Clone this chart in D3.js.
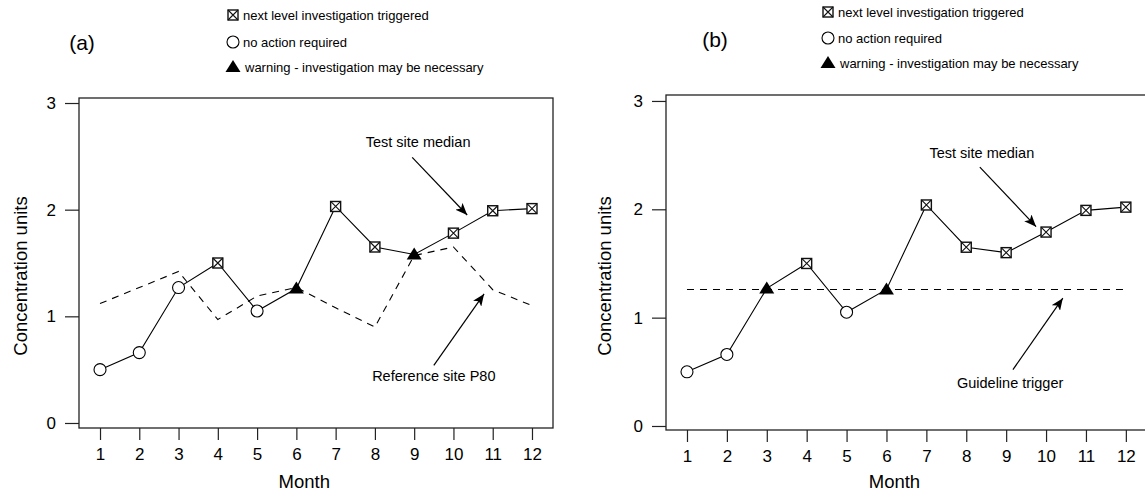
<!DOCTYPE html>
<html>
<head>
<meta charset="utf-8">
<script src="https://cdn.jsdelivr.net/npm/d3@7"></script>
<style>
  body { margin: 0; background: #fff; }
  svg { display: block; font-family: "Liberation Sans", Arial, sans-serif; }
</style>
</head>
<body>
<div id="chart"></div>
<script>
// data
const months = [1, 2, 3, 4, 5, 6, 7, 8, 9, 10, 11, 12];
const testMedianA = [0.50, 0.66, 1.27, 1.50, 1.05, 1.26, 2.03, 1.65, 1.58, 1.78, 1.99, 2.01];
const testMedianB = [0.50, 0.66, 1.27, 1.50, 1.05, 1.26, 2.04, 1.65, 1.60, 1.79, 1.99, 2.02];
const refSiteP80 = [1.12, 1.27, 1.42, 0.97, 1.19, 1.27, 1.08, 0.90, 1.57, 1.65, 1.25, 1.10];
const guidelineTrigger = 1.26;
const statusA = ['none', 'none', 'none', 'next', 'none', 'warn', 'next', 'next', 'warn', 'next', 'next', 'next'];
const statusB = ['none', 'none', 'warn', 'next', 'none', 'warn', 'next', 'next', 'next', 'next', 'next', 'next'];
const yTicks = [0, 1, 2, 3];
const legendItems = [
  {key: 'next', label: 'next level investigation triggered'},
  {key: 'none', label: 'no action required'},
  {key: 'warn', label: 'warning - investigation may be necessary'}
];
const annotationsA = [
  {text: 'Test site median', tx: 9.1, ty: 2.59, x1: 8.95, y1: 2.49, x2: 10.35, y2: 1.95},
  {text: 'Reference site P80', tx: 9.5, ty: 0.39, x1: 9.5, y1: 0.54, x2: 10.78, y2: 1.21}
];
const annotationsB = [
  {text: 'Test site median', tx: 8.39, ty: 2.47, x1: 8.34, y1: 2.39, x2: 9.75, y2: 1.84},
  {text: 'Guideline trigger', tx: 9.1, ty: 0.35, x1: 9.17, y1: 0.52, x2: 10.42, y2: 1.18}
];

const W = 1145, H = 492;

const svg = d3.select('#chart').append('svg')
  .attr('width', W)
  .attr('height', H);

svg.append('defs').append('marker')
  .attr('id', 'arrowhead')
  .attr('viewBox', '0 0 12 10')
  .attr('refX', 12).attr('refY', 5)
  .attr('markerWidth', 12).attr('markerHeight', 10)
  .attr('markerUnits', 'userSpaceOnUse')
  .attr('orient', 'auto')
  .append('path')
  .attr('d', 'M0,0 L12,5 L0,10 L3,5 Z')
  .attr('fill', '#000');

function drawSymbol(g, key, x, y){
  if(key === 'none'){
    g.append('circle')
      .attr('cx', x).attr('cy', y).attr('r', 6)
      .attr('fill', '#fff').attr('stroke', '#000').attr('stroke-width', 1.1);
  } else if(key === 'next'){
    const s = 5;
    g.append('rect')
      .attr('x', x - s).attr('y', y - s)
      .attr('width', 2*s).attr('height', 2*s)
      .attr('fill', '#fff').attr('stroke', '#111').attr('stroke-width', 1.4);
    g.append('path')
      .attr('d', `M${x-s},${y-s}L${x+s},${y+s}M${x+s},${y-s}L${x-s},${y+s}`)
      .attr('stroke', '#111').attr('stroke-width', 1.1);
  } else {
    g.append('path')
      .attr('d', `M${x},${y-7}L${x+7.5},${y+5}L${x-7.5},${y+5}Z`)
      .attr('fill', '#000');
  }
}

function drawPanel(cfg){
  const g = svg.append('g');

  const x = d3.scaleLinear()
    .domain(cfg.xDomain)
    .range([cfg.box.l, cfg.box.r]);
  const y = d3.scaleLinear()
    .domain(cfg.yDomain)
    .range([cfg.box.b, cfg.box.t]);

  // axes
  const yAxis = g.append('g')
    .attr('transform', `translate(${cfg.box.l},0)`)
    .call(d3.axisLeft(y).tickValues(yTicks).tickFormat(d3.format('d')).tickSize(14).tickPadding(9));
  const xAxis = g.append('g')
    .attr('transform', `translate(0,${cfg.box.b})`)
    .call(d3.axisBottom(x).tickValues(months).tickFormat(d3.format('d')).tickSize(12).tickPadding(8));
  [xAxis, yAxis].forEach(a => {
    a.select('.domain').remove();
    a.selectAll('line').attr('stroke', '#222').attr('stroke-width', 1.2);
    a.selectAll('text')
      .attr('fill', '#000')
      .style('font-size', '17px')
      .style('font-family', '"Liberation Sans", Arial, sans-serif');
  });

  // box
  g.append('rect')
    .attr('x', cfg.box.l).attr('y', cfg.box.t)
    .attr('width', cfg.box.r - cfg.box.l)
    .attr('height', cfg.box.b - cfg.box.t)
    .attr('fill', 'none')
    .attr('stroke', '#222')
    .attr('stroke-width', 1.3);

  // axis titles
  g.append('text')
    .attr('x', x(6.2)).attr('y', 488)
    .attr('text-anchor', 'middle')
    .style('font-size', '18.5px')
    .text('Month');
  g.append('text')
    .attr('transform', `translate(${cfg.yTitleX},276) rotate(-90)`)
    .attr('text-anchor', 'middle')
    .attr('dy', '0.35em')
    .style('font-size', '18.5px')
    .text('Concentration units');

  // dashed reference line
  g.append('path')
    .datum(cfg.dashed)
    .attr('d', d3.line().x((d, i) => x(months[i])).y(d => y(d)))
    .attr('fill', 'none')
    .attr('stroke', '#000')
    .attr('stroke-width', 1.1)
    .attr('stroke-dasharray', '7,6');

  // test site median
  g.append('path')
    .datum(cfg.median)
    .attr('d', d3.line().x((d, i) => x(months[i])).y(d => y(d)))
    .attr('fill', 'none')
    .attr('stroke', '#000')
    .attr('stroke-width', 1.1);

  const pts = g.append('g');
  cfg.median.forEach((v, i) => drawSymbol(pts, cfg.status[i], x(months[i]), y(v)));

  // annotations
  cfg.notes.forEach(n => {
    g.append('text')
      .attr('x', x(n.tx)).attr('y', y(n.ty))
      .attr('text-anchor', 'middle')
      .style('font-size', '14.5px')
      .text(n.text);
    g.append('line')
      .attr('x1', x(n.x1)).attr('y1', y(n.y1))
      .attr('x2', x(n.x2)).attr('y2', y(n.y2))
      .attr('stroke', '#000')
      .attr('stroke-width', 1.2)
      .attr('marker-end', 'url(#arrowhead)');
  });

  // panel letter
  g.append('text')
    .attr('x', cfg.letterX).attr('y', cfg.letterY)
    .attr('text-anchor', 'middle')
    .style('font-size', '21px')
    .text(cfg.letter);

  // legend
  const lg = g.append('g');
  legendItems.forEach((d, i) => {
    const ly = cfg.legendY[i];
    drawSymbol(lg, d.key, cfg.legendX, ly);
    lg.append('text')
      .attr('x', cfg.legendX + (d.key === 'warn' ? 12 : 10))
      .attr('y', ly)
      .attr('dy', '0.35em')
      .style('font-size', '13px')
      .text(d.label);
  });
}

drawPanel({
  box: {l: 79, r: 553, t: 98, b: 428},
  xDomain: [0.465, 12.535],
  yDomain: [-0.047, 3.047],
  median: testMedianA,
  status: statusA,
  dashed: refSiteP80,
  notes: annotationsA,
  yTitleX: 21,
  letter: '(a)',
  letterX: 82, letterY: 50,
  legendX: 233,
  legendY: [15, 42, 67]
});

drawPanel({
  box: {l: 666, r: 1147, t: 95, b: 430},
  xDomain: [0.474, 12.53],
  yDomain: [-0.037, 3.055],
  median: testMedianB,
  status: statusB,
  dashed: months.map(() => guidelineTrigger),
  notes: annotationsB,
  yTitleX: 605,
  letter: '(b)',
  letterX: 715, letterY: 47,
  legendX: 828,
  legendY: [12, 38, 63]
});
</script>
</body>
</html>
